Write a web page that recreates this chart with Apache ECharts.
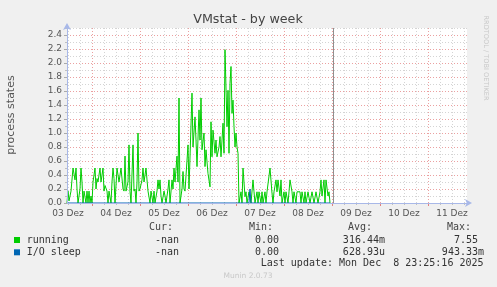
<!DOCTYPE html>
<html><head><meta charset="utf-8">
<script src="https://cdn.jsdelivr.net/npm/echarts@6/dist/echarts.min.js"></script>
<style>html,body{margin:0;padding:0;background:#f0f0f0;}#c{width:497px;height:287px;}</style>
</head><body><div id="c"></div>
<script>
// day labels (one per day, shown at noon)
const dayLabels = ['03 Dez','04 Dez','05 Dez','06 Dez','07 Dez','08 Dez','09 Dez','10 Dez','11 Dez'];
// time slots are 30 minutes; slot 0 = 03 Dez 11:30
const slotCount = 401;
const firstMidnightSlot = 25;
const nowSlot = 266;
const yMax = 2.5;
const yLabels = [0,0.2,0.4,0.6,0.8,1.0,1.2,1.4,1.6,1.8,2.0,2.2,2.4];

// running processes [slot, value]
const running = [[0,0],[1,0.17],[2,0.03],[4,0.17],[5,0.17],[6,0.5],[8,0.33],[9,0.5],[10,0.2],[11,0],[13,0.2],[14,0.5],[15,0.3],[16,0],[17,0.17],[18,0.17],[19,0],[20,0.17],[21,0],[22,0.17],[23,0],[24,0.1],[25,0],
[26,0.3],[28,0.5],[29,0.2],[30,0.35],[31,0.3],[33,0.5],[34,0.3],[36,0.5],[37,0.17],[38,0.25],[40,0.17],[41,0],[42,0.17],[44,0],[45,0.3],[46,0.5],[47,0.35],[48,0],[50,0.5],[51,0.5],[52,0.3],[54,0.5],[55,0.5],[56,0.2],[57,0.17],[58,0.67],[59,0.17],[60,0.17],[61,0.3],[62,0.83],[63,0.17],[64,0],[65,0],[66,0.83],[67,0.17],[68,0.2],[69,0],[70,0.3],[71,1.0],[72,0.17],[73,0.2],[75,0.33],[76,0.5],[77,0.3],[79,0.5],[80,0.33],[81,0.17],[83,0],[84,0.17],[86,0],[87,0.17],[88,0],[90,0.17],[91,0.33],[92,0.2],[93,0.33],[94,0.1],[95,0],[97,0.17],[98,0.1],[99,0],[101,0.2],[102,0.33],[103,0],[105,0.33],[106,0.2],[107,0.5],[108,0.3],[110,0.67],[111,0.3],[112,1.5],[113,0],[115,0.2],[116,0.45],[117,0.2],[118,0.17],[120,0.17],[121,0.83],[122,0.2],[124,0.2],[125,1.57],[126,0.8],[128,1.23],[129,0.9],[130,0.52],[132,1.33],[133,0.9],[134,1.5],[135,0.76],[137,1.0],[138,0.52],[139,0.76],[141,0.42],[143,0.23],[144,1.16],[145,0.66],[146,1.04],[148,0.71],[149,0.9],[150,0.66],[152,0.8],[153,0.95],[154,0.66],[156,1.14],[157,0.71],[158,2.19],[160,1.09],[161,1.61],[162,0.71],[163,1.71],[164,1.95],[165,1.28],[166,1.47],[167,1.09],[168,0.8],[169,1.0],[170,0.8],[171,0.71],[172,0],[174,0.16],[175,0],[176,0.5],[178,0.09],[179,0.16],[180,0],[182,0.16],[183,0.16],[184,0],[186,0.33],[187,0.16],[188,0],[190,0.16],[191,0],[192,0.16],[194,0],[195,0.16],[196,0],[198,0.16],[199,0],[200,0.16],[202,0.17],[203,0.5],[205,0.14],[206,0],[207,0.16],[209,0.33],[210,0.16],[211,0.33],[213,0.1],[214,0.33],[215,0],[217,0.16],[218,0],[219,0.16],[221,0],[222,0.16],[223,0.33],[225,0.16],[226,0],[227,0.16],[229,0],[230,0.16],[231,0.16],[233,0.16],[234,0],[235,0.16],[237,0],[238,0.16],[239,0],[241,0.16],[242,0.16],[243,0],[245,0.16],[246,0.16],[247,0],[249,0.16],[250,0.16],[251,0],[253,0.16],[254,0.33],[255,0.1],[257,0.33],[258,0],[259,0.33],[261,0.1],[262,0.16],[263,0]];
// I/O sleep [slot, value]
const ioSleep = [[0,0],[182,0],[183,0.2],[184,0],[263,0]];

// legend table
const legendHeaders = ['Cur:','Min:','Avg:','Max:'];
const legendRows = [
  {name:'running', color:'#00cc00', cur:'-nan', min:'0.00', avg:'316.44m', max:'7.55'},
  {name:'I/O sleep', color:'#0066b3', cur:'-nan', min:'0.00', avg:'628.93u', max:'943.33m'}
];
const lastUpdate = 'Last update: Mon Dec  8 23:25:16 2025';
const footer = 'Munin 2.0.73';
const titleText = 'VMstat - by week';
const yName = 'process states';

// categories
const cats = [];
for (let s = 0; s < slotCount; s++) {
  const minutes = 11*60 + 30 + s*30;
  const day = 3 + Math.floor(minutes / 1440);
  const m = minutes % 1440;
  const hh = String(Math.floor(m/60)).padStart(2,'0');
  const mm = String(m%60).padStart(2,'0');
  cats.push(String(day).padStart(2,'0') + ' Dez ' + hh + ':' + mm);
}
const isMidnight = i => (i - firstMidnightSlot) % 48 === 0;
const isSixHour = i => (i - firstMidnightSlot + 48*10) % 12 === 0;
const isNoon = i => (i - firstMidnightSlot + 24 + 48*10) % 48 === 0;

const axisBlue = '#a8b8e8';
const mono = 'DejaVu Sans Mono';
const sans = 'DejaVu Sans';

const graphic = [];
graphic.push({type:'text', x:248, y:20, style:{text:titleText, font:'12.7px "'+sans+'"', fill:'#444', textAlign:'center', textVerticalAlign:'middle'}});
graphic.push({type:'text', x:11, y:115, rotation:Math.PI/2, style:{text:yName, font:'11px "'+sans+'"', fill:'#555', textAlign:'center', textVerticalAlign:'middle'}});
graphic.push({type:'text', x:486, y:58, rotation:-Math.PI/2, style:{text:'RRDTOOL / TOBI OETIKER', font:'6.6px "'+sans+'"', fill:'#c8c8c8', textAlign:'center', textVerticalAlign:'middle'}});
const colX = [149, 249, 348, 447];
legendHeaders.forEach((h,i)=>graphic.push({type:'text', x:colX[i], y:227, style:{text:h, font:'10px "'+mono+'"', fill:'#444', textAlign:'left', textVerticalAlign:'middle'}}));
const valRight = [179, 285, 385, 484];
legendRows.forEach((r,k)=>{
  const y = 240 + k*12.3;
  graphic.push({type:'rect', shape:{x:14, y:y-3, width:6, height:6}, style:{fill:r.color}});
  graphic.push({type:'text', x:26.7, y:y, style:{text:r.name, font:'10px "'+mono+'"', fill:'#333', textAlign:'left', textVerticalAlign:'middle'}});
  [r.cur, r.min, r.avg, r.max].forEach((v,i)=>{
    const s = /[a-z]$/.test(v) ? v : v + ' ';
    graphic.push({type:'text', x:valRight[i], y:y, style:{text:s, font:'10px "'+mono+'"', fill:'#333', textAlign:'right', textVerticalAlign:'middle'}});
  });
});
graphic.push({type:'text', x:483.5, y:263.5, style:{text:lastUpdate, font:'10px "'+mono+'"', fill:'#333', textAlign:'right', textVerticalAlign:'middle'}});
graphic.push({type:'text', x:248, y:276, style:{text:footer, font:'7.5px "'+sans+'"', fill:'#c8c8c8', textAlign:'center', textVerticalAlign:'middle'}});

const baseX = {type:'category', data:cats, boundaryGap:false, gridIndex:0, position:'bottom', offset:0};
const baseY = {type:'value', min:0, max:yMax, gridIndex:0, position:'left', offset:0};
const chart = echarts.init(document.getElementById('c'), null, {renderer:'canvas'});
chart.setOption({
  animation:false,
  backgroundColor:'#f0f0f0',
  grid:{left:67, top:28, width:400, height:175, show:true, backgroundColor:'#ffffff', borderWidth:0},
  graphic: graphic,
  xAxis:[
    Object.assign({}, baseX, {axisLine:{show:false}, axisLabel:{show:false},
      axisTick:{show:true, interval:(i)=>isSixHour(i), length:2, lineStyle:{color:'#c0c0c0'}},
      splitLine:{show:true, interval:(i)=>isSixHour(i), lineStyle:{color:'#d4d4d4', type:[1,2], width:1}}}),
    Object.assign({}, baseX, {axisLine:{show:false}, axisLabel:{show:false},
      axisTick:{show:true, interval:(i)=>isMidnight(i), length:3, lineStyle:{color:'#e08080'}},
      splitLine:{show:true, interval:(i)=>isMidnight(i), lineStyle:{color:'#eba0a0', type:[1,2], width:1}}}),
    Object.assign({}, baseX, {z:10,
      axisLine:{show:true, lineStyle:{color:axisBlue, width:1}, symbol:['none','arrow'], symbolSize:[6,7], symbolOffset:[0,5]},
      axisTick:{show:false}, splitLine:{show:false},
      axisLabel:{show:true, interval:(i)=>isNoon(i), formatter:(v)=>v.slice(0,6), color:'#555', fontFamily:sans, fontSize:9, margin:6}})
  ],
  yAxis:[
    Object.assign({}, baseY, {interval:0.1, axisLine:{show:false}, axisLabel:{show:false},
      axisTick:{show:true, length:2, lineStyle:{color:'#c0c0c0'}},
      splitLine:{show:true, lineStyle:{color:'#d4d4d4', type:[1,2], width:1}}}),
    Object.assign({}, baseY, {interval:0.2, axisLine:{show:false}, axisLabel:{show:false}, axisTick:{show:false},
      splitLine:{show:true, showMaxLine:false, lineStyle:{color:'#eba0a0', type:[1,2], width:1}}}),
    Object.assign({}, baseY, {interval:0.2, z:10,
      axisLine:{show:true, lineStyle:{color:axisBlue, width:1}, symbol:['none','arrow'], symbolSize:[6,7], symbolOffset:[0,5]},
      axisTick:{show:true, length:3, lineStyle:{color:'#aaa'}}, splitLine:{show:false},
      axisLabel:{show:true, showMaxLabel:false, formatter:(v)=>yLabels.includes(+v.toFixed(1)) ? v.toFixed(1) : '', color:'#555', fontFamily:sans, fontSize:9, margin:5}})
  ],
  series:[
    {type:'line', name:'running', data:running, xAxisIndex:0, yAxisIndex:0, showSymbol:false, symbol:'none',
      lineStyle:{color:'#00cc00', width:1}, itemStyle:{color:'#00cc00'}, z:3,
      markLine:{silent:true, symbol:'none', label:{show:false}, lineStyle:{color:'#909090', type:'solid', width:1},
        data:[{xAxis:cats[nowSlot]}]}},
    {type:'line', name:'I/O sleep', data:ioSleep, xAxisIndex:0, yAxisIndex:0, showSymbol:false, symbol:'none',
      lineStyle:{color:'#0066b3', width:1}, itemStyle:{color:'#0066b3'}, z:4}
  ]
});
</script>
</body></html>
